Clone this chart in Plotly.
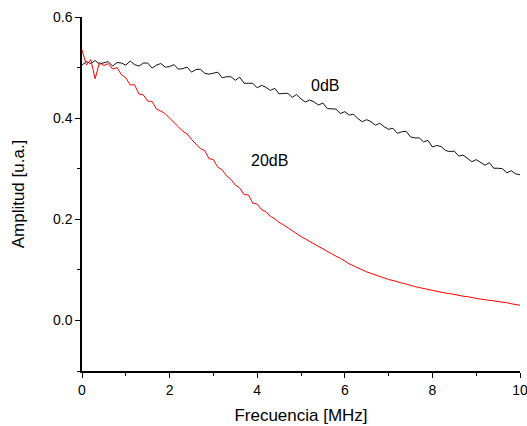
import plotly.graph_objects as go

freq = [round(i * 0.1, 1) for i in range(101)]

amp_0db = [
    0.505, 0.512, 0.508, 0.514, 0.507, 0.509, 0.512, 0.503, 0.510, 0.509,
    0.505, 0.513, 0.506, 0.503, 0.509, 0.509, 0.499, 0.505, 0.508, 0.501,
    0.502, 0.506, 0.497, 0.498, 0.501, 0.491, 0.496, 0.497, 0.489, 0.487,
    0.489, 0.491, 0.480, 0.482, 0.482, 0.475, 0.481, 0.469, 0.469, 0.469,
    0.460, 0.465, 0.461, 0.455, 0.459, 0.448, 0.449, 0.449, 0.441, 0.447,
    0.438, 0.432, 0.436, 0.432, 0.426, 0.430, 0.419, 0.419, 0.418, 0.409,
    0.413, 0.406, 0.408, 0.399, 0.393, 0.397, 0.393, 0.386, 0.390, 0.383,
    0.378, 0.380, 0.370, 0.373, 0.374, 0.363, 0.361, 0.361, 0.353, 0.356,
    0.343, 0.346, 0.344, 0.336, 0.334, 0.335, 0.325, 0.327, 0.320, 0.314,
    0.318, 0.313, 0.307, 0.312, 0.301, 0.301, 0.300, 0.292, 0.296, 0.290,
    0.288,
]

amp_20db = [
    0.535, 0.505, 0.516, 0.478, 0.510, 0.504, 0.508, 0.497, 0.500, 0.486,
    0.480, 0.466, 0.466, 0.448, 0.446, 0.434, 0.433, 0.418, 0.414, 0.409,
    0.400, 0.392, 0.383, 0.374, 0.369, 0.358, 0.350, 0.340, 0.336, 0.320,
    0.318, 0.303, 0.298, 0.286, 0.279, 0.268, 0.262, 0.249, 0.248, 0.232,
    0.230, 0.219, 0.215, 0.206, 0.201, 0.194, 0.189, 0.183, 0.178, 0.171,
    0.166, 0.161, 0.156, 0.151, 0.146, 0.141, 0.136, 0.132, 0.127, 0.123,
    0.117, 0.112, 0.108, 0.104, 0.099, 0.096, 0.093, 0.090, 0.086, 0.084,
    0.081, 0.079, 0.076, 0.074, 0.072, 0.069, 0.067, 0.065, 0.063, 0.061,
    0.059, 0.058, 0.056, 0.054, 0.053, 0.051, 0.050, 0.048, 0.047, 0.045,
    0.044, 0.042, 0.041, 0.040, 0.039, 0.037, 0.036, 0.035, 0.033, 0.032,
    0.030,
]

labels = ["0dB", "20dB"]
label_x = [5.55, 4.29]
label_y = [0.465, 0.317]

x_ticks = [0, 2, 4, 6, 8, 10]
y_ticks = [0.0, 0.2, 0.4, 0.6]
y_tick_text = ["0.0", "0.2", "0.4", "0.6"]

fig = go.Figure()
fig.add_trace(go.Scatter(x=freq, y=amp_0db, mode="lines",
                         line=dict(color="#111111", width=1), showlegend=False))
fig.add_trace(go.Scatter(x=freq, y=amp_20db, mode="lines",
                         line=dict(color="#ff0000", width=1), showlegend=False))

for t, xx, yy in zip(labels, label_x, label_y):
    fig.add_annotation(x=xx, y=yy, text=t, showarrow=False,
                       font=dict(family="Liberation Sans, Arial", size=16, color="black"))

axis_font = dict(family="Liberation Sans, Arial", size=14, color="black")

fig.update_layout(
    width=527, height=426,
    margin=dict(l=82, r=7, t=17, b=55, autoexpand=False),
    paper_bgcolor="white", plot_bgcolor="white",
    font=axis_font,
    xaxis=dict(range=[-0.0001, 10.0001], tickvals=x_ticks, ticks="outside", ticklen=5,
               tickwidth=1.2, tickcolor="black", showline=True, linecolor="black",
               linewidth=1.5, showgrid=False, zeroline=False, automargin=False,
               tickfont=dict(size=14), ticklabeloverflow="allow",
               minor=dict(ticks="outside", ticklen=3, dtick=1, tick0=0,
                          tickcolor="black", tickwidth=1.2),
               title=dict(text="Frecuencia [MHz]", font=dict(size=17), standoff=13)),
    yaxis=dict(range=[-0.1, 0.6001], tickvals=y_ticks, ticktext=y_tick_text,
               ticks="outside", ticklen=5, tickwidth=1.2, tickcolor="black",
               showline=True, linecolor="black", linewidth=1.5, showgrid=False,
               zeroline=False, automargin=False,
               tickfont=dict(size=14), ticklabeloverflow="allow",
               minor=dict(ticks="outside", ticklen=3, dtick=0.1, tick0=0,
                          tickcolor="black", tickwidth=1.2),
               title=dict(text="Amplitud [u.a.]", font=dict(size=17), standoff=24)),
)

fig.write_html("out.html")
